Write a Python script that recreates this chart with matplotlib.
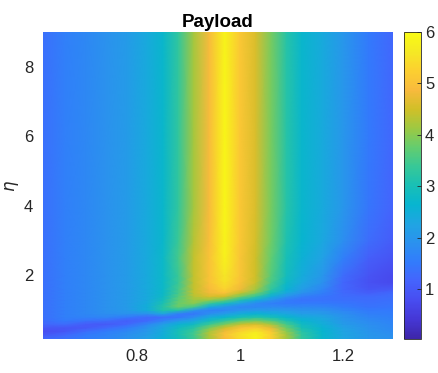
import numpy as np
import matplotlib
matplotlib.use("Agg")
import matplotlib.pyplot as plt
from matplotlib.colors import LinearSegmentedColormap

plt.rcParams['font.family'] = ['Liberation Sans', 'DejaVu Sans']

# grid of the payload surface
x_nodes = [0.617, 0.66, 0.70, 0.74, 0.78, 0.82, 0.85, 0.88, 0.91, 0.94,
           0.97, 1.00, 1.03, 1.06, 1.09, 1.12, 1.16, 1.20, 1.25, 1.297]
eta_nodes = [0.17, 0.3, 0.4, 0.5, 0.6, 0.7, 0.8, 0.9, 1.0, 1.1, 1.2,
             1.3, 1.4, 1.5, 1.6, 1.8, 2.0, 2.5, 3.0, 4.0, 6.0, 9.0]

# payload along eta, one profile per x node
payload_cols = [
    [1.25, 0.95, 0.8, 1.0, 1.2, 1.3, 1.35, 1.35, 1.35, 1.35, 1.35, 1.35, 1.35, 1.35, 1.35, 1.35, 1.35, 1.35, 1.35, 1.35, 1.35, 1.35],
    [1.4, 1.2, 0.95, 0.95, 1.3, 1.5, 1.6, 1.6, 1.6, 1.6, 1.6, 1.6, 1.6, 1.6, 1.6, 1.6, 1.6, 1.6, 1.6, 1.6, 1.6, 1.6],
    [1.55, 1.5, 1.3, 1.0, 1.05, 1.4, 1.65, 1.75, 1.75, 1.75, 1.75, 1.75, 1.75, 1.75, 1.75, 1.75, 1.75, 1.75, 1.75, 1.75, 1.75, 1.75],
    [1.7, 1.65, 1.55, 1.25, 1.0, 1.3, 1.7, 1.85, 1.9, 1.9, 1.9, 1.9, 1.9, 1.9, 1.9, 1.9, 1.9, 1.9, 1.9, 1.9, 1.9, 1.9],
    [1.9, 1.85, 1.75, 1.55, 1.2, 1.1, 1.5, 1.9, 2.05, 2.1, 2.1, 2.1, 2.1, 2.1, 2.1, 2.1, 2.1, 2.1, 2.1, 2.1, 2.1, 2.1],
    [2.2, 2.15, 2.05, 1.95, 1.7, 1.25, 1.25, 1.9, 2.45, 2.5, 2.45, 2.4, 2.4, 2.4, 2.4, 2.4, 2.4, 2.4, 2.4, 2.4, 2.4, 2.4],
    [2.55, 2.5, 2.45, 2.35, 2.15, 1.65, 1.3, 2.3, 3.1, 3.2, 3.05, 2.9, 2.8, 2.75, 2.75, 2.75, 2.75, 2.75, 2.7, 2.7, 2.7, 2.7],
    [2.9, 3.0, 3.0, 2.85, 2.55, 2.05, 1.45, 1.55, 3.1, 3.8, 3.8, 3.7, 3.6, 3.5, 3.5, 3.4, 3.4, 3.5, 3.4, 3.3, 3.3, 3.3],
    [3.4, 3.5, 3.4, 3.2, 2.85, 2.35, 1.85, 1.45, 1.95, 3.5, 4.0, 4.15, 4.3, 4.4, 4.4, 4.4, 4.4, 4.4, 4.3, 4.2, 4.2, 4.2],
    [4.2, 4.3, 4.2, 3.9, 3.4, 2.9, 2.4, 1.85, 1.6, 2.4, 3.4, 4.1, 4.6, 4.8, 4.9, 5.0, 5.0, 5.0, 4.95, 4.9, 4.9, 4.9],
    [4.9, 5.0, 4.8, 4.5, 3.9, 3.3, 2.7, 2.15, 1.7, 1.95, 2.9, 3.8, 4.5, 5.0, 5.3, 5.5, 5.6, 5.8, 5.85, 5.9, 5.9, 5.85],
    [5.4, 5.5, 5.3, 5.0, 4.4, 3.7, 3.0, 2.45, 1.95, 1.7, 2.2, 3.1, 3.9, 4.4, 4.8, 5.0, 5.05, 5.05, 5.1, 5.1, 5.1, 5.1],
    [5.8, 5.85, 5.6, 5.2, 4.6, 3.9, 3.2, 2.6, 2.1, 1.75, 1.8, 2.5, 3.3, 3.9, 4.2, 4.45, 4.5, 4.5, 4.55, 4.6, 4.6, 4.6],
    [5.2, 5.3, 5.1, 4.7, 4.2, 3.6, 3.0, 2.5, 2.1, 1.8, 1.6, 1.95, 2.5, 3.0, 3.3, 3.55, 3.65, 3.75, 3.85, 3.9, 3.9, 3.9],
    [4.2, 4.2, 4.0, 3.8, 3.5, 3.1, 2.7, 2.35, 2.05, 1.75, 1.5, 1.55, 1.95, 2.35, 2.6, 2.8, 2.9, 3.0, 3.1, 3.2, 3.2, 3.2],
    [3.3, 3.3, 3.2, 3.0, 2.85, 2.65, 2.45, 2.15, 1.95, 1.75, 1.5, 1.4, 1.6, 1.9, 2.15, 2.35, 2.45, 2.55, 2.65, 2.7, 2.7, 2.7],
    [2.7, 2.7, 2.65, 2.6, 2.5, 2.4, 2.3, 2.1, 1.9, 1.7, 1.5, 1.4, 1.45, 1.6, 1.7, 1.9, 2.0, 2.2, 2.35, 2.4, 2.4, 2.4],
    [2.3, 2.3, 2.25, 2.2, 2.1, 2.0, 1.95, 1.85, 1.7, 1.55, 1.45, 1.35, 1.3, 1.25, 1.2, 1.2, 1.3, 1.6, 1.85, 2.0, 2.0, 2.0],
    [2.0, 2.0, 1.95, 1.9, 1.85, 1.8, 1.7, 1.6, 1.5, 1.4, 1.35, 1.3, 1.25, 1.1, 0.95, 0.85, 0.9, 1.1, 1.3, 1.45, 1.5, 1.5],
    [1.9, 1.85, 1.8, 1.75, 1.7, 1.65, 1.6, 1.55, 1.5, 1.45, 1.4, 1.35, 1.3, 1.25, 1.0, 0.75, 0.75, 0.9, 1.05, 1.15, 1.2, 1.2],
]

# MATLAB parula, sampled
parula_rgb = [
    (0.2422, 0.1504, 0.6603), (0.2706, 0.2147, 0.8364), (0.2813, 0.3006, 0.9414),
    (0.2699, 0.3892, 0.9906), (0.1963, 0.4847, 0.9892), (0.1687, 0.5703, 0.9359),
    (0.1248, 0.6459, 0.8883), (0.0297, 0.7082, 0.8163), (0.0964, 0.7500, 0.7120),
    (0.2161, 0.7843, 0.5923), (0.3909, 0.8029, 0.4354), (0.6174, 0.7876, 0.2612),
    (0.8203, 0.7498, 0.1535), (0.9728, 0.7298, 0.2394), (0.9892, 0.8136, 0.1885),
    (0.9597, 0.9135, 0.1423), (0.9769, 0.9839, 0.0805),
]
parula = LinearSegmentedColormap.from_list('parula', parula_rgb, N=256)

X, Y = np.meshgrid(x_nodes, eta_nodes)
Z = np.array(payload_cols).T

fig = plt.figure(figsize=(4.39, 3.73), dpi=100)
ax = fig.add_axes([0.098, 0.091, 0.797, 0.823])
cax = fig.add_axes([0.920, 0.091, 0.0387, 0.823])

mesh = ax.pcolormesh(X, Y, Z, shading='gouraud', cmap=parula, vmin=0.03, vmax=6.0)
ax.set_xlim(x_nodes[0], x_nodes[-1])
ax.set_ylim(eta_nodes[0], eta_nodes[-1])
ax.set_xticks([0.8, 1.0, 1.2])
ax.set_xticklabels(['0.8', '1', '1.2'])
ax.set_yticks([2, 4, 6, 8])
ax.tick_params(length=0, labelsize=12, colors='#262626', pad=7)
for s in ax.spines.values():
    s.set_visible(False)
ax.set_title('Payload', fontsize=13.5, fontweight='bold', pad=4)
ax.set_ylabel(r'$\eta$', fontsize=12, color='#262626', labelpad=2)

cb = fig.colorbar(mesh, cax=cax, ticks=[1, 2, 3, 4, 5, 6])
cb.outline.set_edgecolor('#262626')
cb.outline.set_linewidth(0.6)
cax.tick_params(direction='in', length=3, width=0.6, labelsize=12,
                colors='#262626', pad=3)

fig.savefig('out.png', dpi=100)
